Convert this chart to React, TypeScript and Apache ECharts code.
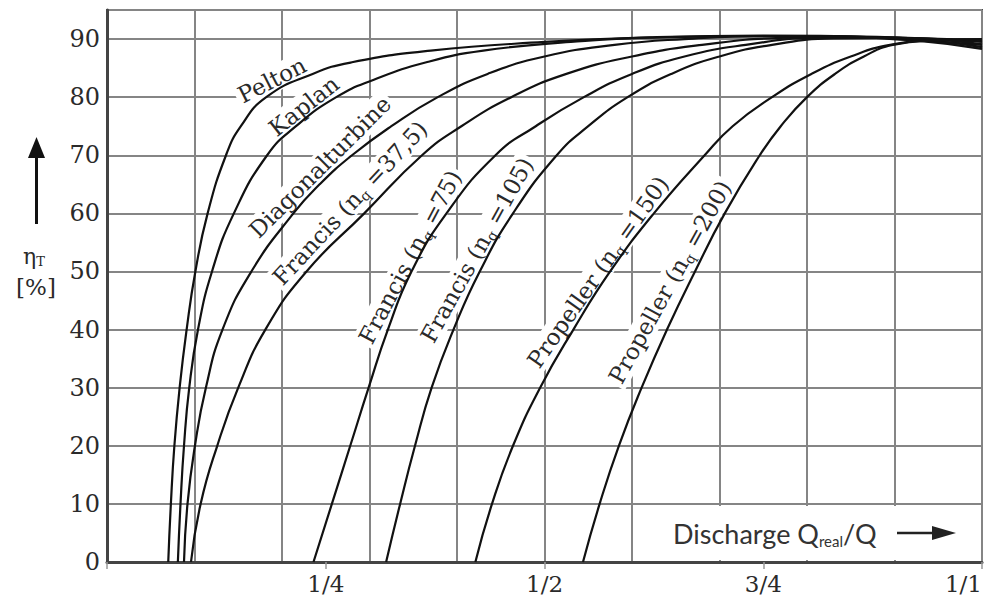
import React, { useEffect, useRef } from "react";
import * as echarts from "echarts";

// ---- data (x = Q_real/Q, y = efficiency %) ----
const pelton = [[0.070, 0], [0.073, 10], [0.077, 20], [0.083, 30], [0.091, 40], [0.101, 50], [0.115, 60], [0.136, 70], [0.153, 75], [0.182, 80], [0.235, 84], [0.280, 86], [0.37, 88], [0.50, 89.5], [0.62, 90.3], [0.75, 90.6], [0.88, 90.4], [1.0, 89.5]];
const kaplan = [[0.081, 0], [0.084, 10], [0.088, 20], [0.094, 30], [0.104, 40], [0.120, 50], [0.145, 60], [0.183, 70], [0.216, 75], [0.262, 80], [0.305, 83], [0.365, 86], [0.43, 88], [0.53, 89.5], [0.63, 90.3], [0.75, 90.5], [0.88, 90.3], [1.0, 89.8]];
const diagonal = [[0.088, 0], [0.092, 10], [0.1005, 20], [0.113, 30], [0.132, 40], [0.165, 50], [0.213, 60], [0.243, 65], [0.28, 70], [0.325, 75], [0.378, 80], [0.435, 84], [0.50, 87], [0.58, 89], [0.66, 90], [0.75, 90.5], [0.82, 90.5], [0.92, 89.8], [1.0, 89.0]];
const francis37 = [[0.096, 0], [0.107, 10], [0.126, 20], [0.150, 30], [0.181, 40], [0.228, 50], [0.294, 60], [0.36, 70], [0.405, 75], [0.462, 80], [0.525, 84], [0.60, 87], [0.68, 89], [0.77, 90.2], [0.84, 90.4], [0.92, 89.8], [1.0, 88.3]];
const francis75 = [[0.236, 0], [0.257, 10], [0.278, 20], [0.299, 30], [0.321, 40], [0.348, 50], [0.388, 60], [0.444, 70], [0.49, 75], [0.545, 80], [0.60, 84], [0.66, 87], [0.73, 89], [0.81, 90.2], [0.88, 90.3], [0.95, 89.6], [1.0, 88.6]];
const francis105 = [[0.319, 0], [0.335, 10], [0.352, 20], [0.371, 30], [0.396, 40], [0.426, 50], [0.464, 60], [0.514, 70], [0.55, 75], [0.595, 80], [0.645, 84], [0.70, 87], [0.76, 89], [0.83, 90.1], [0.90, 90.2], [1.0, 89.1]];
const propeller150 = [[0.421, 0], [0.440, 10], [0.464, 20], [0.495, 30], [0.533, 40], [0.575, 50], [0.625, 60], [0.683, 70], [0.715, 75], [0.76, 80], [0.805, 84], [0.85, 87], [0.895, 89], [0.95, 89.8], [1.0, 89.9]];
const propeller200 = [[0.544, 0], [0.563, 10], [0.585, 20], [0.611, 30], [0.640, 40], [0.672, 50], [0.706, 60], [0.746, 70], [0.770, 75], [0.800, 80], [0.832, 84], [0.865, 87], [0.898, 89], [0.95, 89.8], [1.0, 90.0]];

const curveNames = ["Pelton", "Kaplan", "Diagonalturbine", "Francis (nq=37,5)", "Francis (nq=75)", "Francis (nq=105)", "Propeller (nq=150)", "Propeller (nq=200)"];
const curves = [pelton, kaplan, diagonal, francis37, francis75, francis105, propeller150, propeller200];

const xTickValues = [0.25, 0.5, 0.75, 1];
const xTickLabels = ["1/4", "1/2", "3/4", "1/1"];
const yTickValues = [0, 10, 20, 30, 40, 50, 60, 70, 80, 90];

// curve labels: rich text, centre position (px), angle (deg)
const curveLabels = [
  { text: "{t|Pelton}", x: 272, y: 80, a: 27 },
  { text: "{t|Kaplan}", x: 304, y: 106, a: 38 },
  { text: "{t|Diagonalturbine}", x: 320, y: 167, a: 45 },
  { text: "{t|Francis (n}{s|q}{t| =37,5)}", x: 350, y: 203, a: 47 },
  { text: "{t|Francis (n}{s|q}{t| =75)}", x: 410, y: 257, a: 62 },
  { text: "{t|Francis (n}{s|q}{t| =105)}", x: 477, y: 250, a: 61 },
  { text: "{t|Propeller (n}{s|q}{t| =150)}", x: 598, y: 272, a: 55 },
  { text: "{t|Propeller (n}{s|q}{t| =200)}", x: 670, y: 282, a: 61 },
];

const SERIF = "DejaVu Serif";
const INK = "#2a2a2a";

export default function App() {
  const ref = useRef<HTMLDivElement>(null);
  useEffect(() => {
    if (!ref.current) return;
    const chart = echarts.init(ref.current, undefined, { renderer: "svg" });
    const labelRich = {
      t: { fontFamily: SERIF, fontSize: 23, fill: INK, lineHeight: 26 },
      s: { fontFamily: SERIF, fontSize: 14, fill: INK, lineHeight: 26, verticalAlign: "bottom" },
    };
    const graphic: any[] = curveLabels.map((l) => ({
      type: "text",
      x: l.x,
      y: l.y,
      rotation: (l.a * Math.PI) / 180,
      z: 1,
      style: {
        text: l.text,
        rich: labelRich,
        align: "center",
        verticalAlign: "middle",
        backgroundColor: "#fff",
        padding: [0, 3],
      },
    }));
    graphic.push(
      { type: "line", z: 10, shape: { x1: 36.5, y1: 224, x2: 36.5, y2: 152 }, style: { stroke: "#111", lineWidth: 3 } },
      { type: "polygon", z: 10, shape: { points: [[36.5, 137], [28, 158], [45, 158]] }, style: { fill: "#111" } },
      {
        type: "text", z: 10, x: 34, y: 256,
        style: {
          text: "{e|η}{s|T}", align: "center", verticalAlign: "middle",
          rich: {
            e: { fontFamily: SERIF, fontSize: 22, fill: INK, lineHeight: 24 },
            s: { fontFamily: SERIF, fontSize: 13, fill: INK, lineHeight: 24, verticalAlign: "bottom" },
          },
        },
      },
      { type: "text", z: 10, x: 36, y: 287, style: { text: "[%]", fontFamily: SERIF, fontSize: 23, fill: INK, align: "center", verticalAlign: "middle" } },
      { type: "rect", z: 5, shape: { x: 662, y: 506, width: 319, height: 54 }, style: { fill: "#fff" } },
      {
        type: "text", z: 6, x: 673, y: 533,
        style: {
          text: "{a|Discharge Q}{s|real}{a|/Q}", align: "left", verticalAlign: "middle",
          rich: {
            a: { fontFamily: "Lato", fontSize: 27, fill: "#333", lineHeight: 30 },
            s: { fontFamily: "Lato", fontSize: 15, fill: "#333", lineHeight: 30, verticalAlign: "bottom" },
          },
        },
      },
      { type: "line", z: 6, shape: { x1: 897, y1: 533, x2: 936, y2: 533 }, style: { stroke: "#222", lineWidth: 2.5 } },
      { type: "polygon", z: 6, shape: { points: [[956, 533], [932, 526], [932, 540]] }, style: { fill: "#222" } }
    );

    const option: any = {
      animation: false,
      backgroundColor: "#fff",
      grid: { left: 107, top: 10, right: 7, bottom: 39, show: true, borderColor: "#4a4a4a", borderWidth: 2, backgroundColor: "#fff" },
      xAxis: [
        {
          type: "value", min: 0, max: 1, interval: 0.1,
          axisLine: { show: true, onZero: false, lineStyle: { color: "#444", width: 3 } },
          axisTick: { show: false }, axisLabel: { show: false },
          splitLine: { show: true, lineStyle: { color: "#858585", width: 2 } },
        },
        {
          type: "value", min: 0, max: 1, interval: 0.25, position: "bottom",
          axisLine: { show: false }, splitLine: { show: false },
          axisTick: { show: true, length: 7, lineStyle: { color: "#999", width: 1.5 } },
          axisLabel: {
            fontFamily: SERIF, fontSize: 23, color: INK, margin: 10, alignMaxLabel: "right",
            formatter: (v: number) => {
              const i = xTickValues.findIndex((t) => Math.abs(t - v) < 1e-6);
              return i >= 0 ? xTickLabels[i] : "";
            },
          },
        },
      ],
      yAxis: {
        type: "value", min: 0, max: 95, interval: 10,
        axisLine: { show: true, lineStyle: { color: "#444", width: 3 } },
        axisTick: { show: false },
        splitLine: { lineStyle: { color: "#858585", width: 2 } },
        axisLabel: {
          fontFamily: SERIF, fontSize: 24, color: INK, margin: 7,
          formatter: (v: number) => (yTickValues.includes(v) ? String(v) : ""),
        },
      },
      series: curves.map((d, i) => ({
        name: curveNames[i],
        type: "line",
        xAxisIndex: 0,
        data: d,
        showSymbol: false,
        smooth: 0.5,
        z: 3,
        lineStyle: { color: "#111", width: 2.2 },
      })),
      graphic,
    };
    chart.setOption(option);
    return () => chart.dispose();
  }, []);
  return <div ref={ref} style={{ position: "fixed", left: 0, top: 0, width: 989, height: 601 }} />;
}
